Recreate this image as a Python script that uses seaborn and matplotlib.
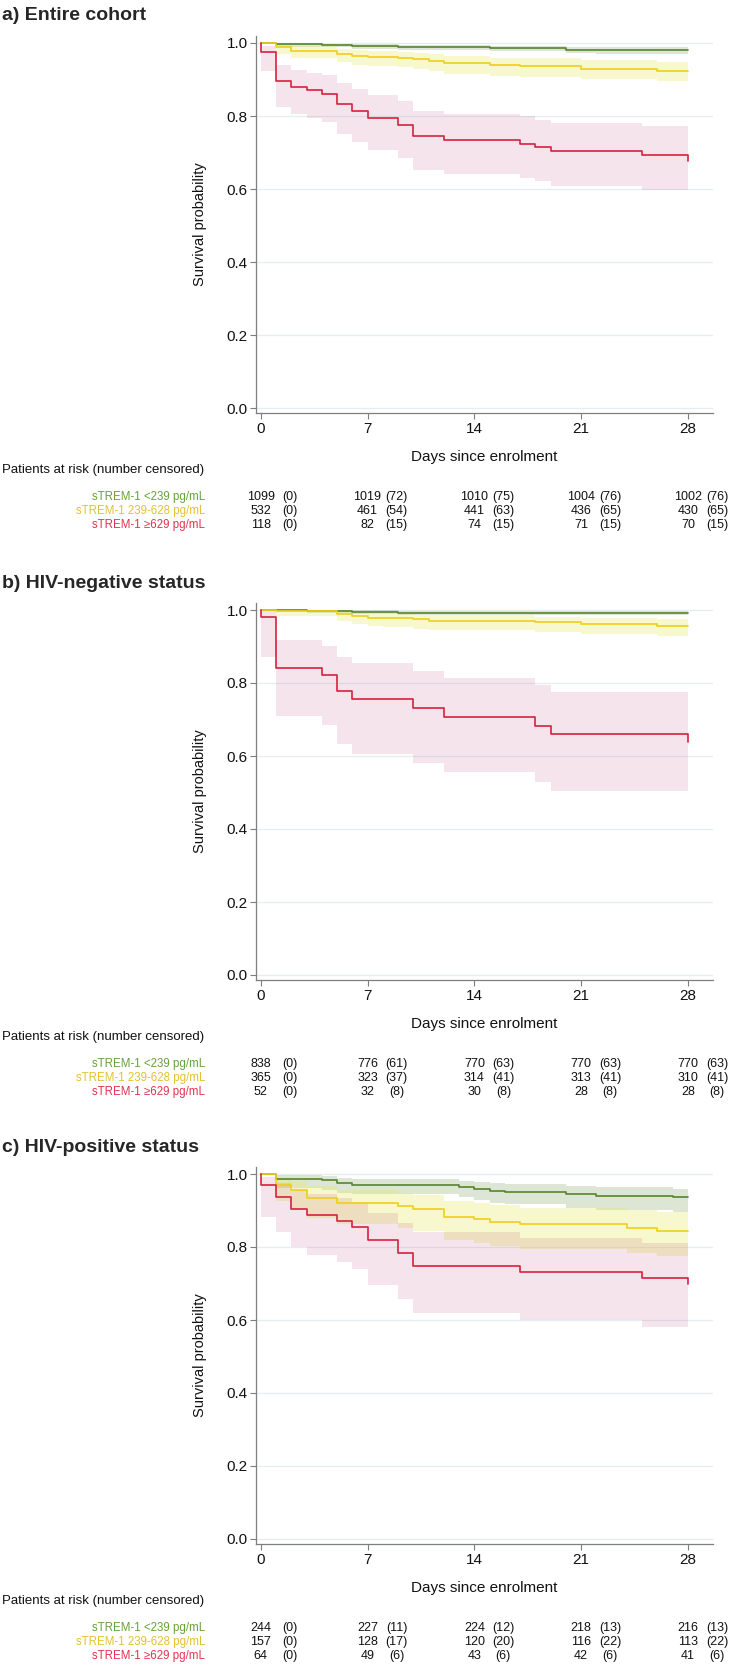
import matplotlib
matplotlib.use('Agg')
import matplotlib.pyplot as plt
import seaborn as sns
from matplotlib.transforms import blended_transform_factory

sns.set_theme(style='white')
plt.rcParams['font.family'] = ['Liberation Sans', 'DejaVu Sans']

W, H = 730, 1666

# ---------------- data ----------------
day_ticks = [0, 7, 14, 21, 28]
surv_ticks = [0.0, 0.2, 0.4, 0.6, 0.8, 1.0]
groups = ['sTREM-1 <239 pg/mL', 'sTREM-1 239-628 pg/mL', 'sTREM-1 \u2265629 pg/mL']
titles = ['a) Entire cohort', 'b) HIV-negative status', 'c) HIV-positive status']

# a) entire cohort
a_low_t = [0, 1, 4, 6, 9, 15, 20, 22, 28]
a_low_s = [1.0, 0.996, 0.994, 0.991, 0.988, 0.985, 0.982, 0.980, 0.980]
a_low_hi = [1.0, 0.999, 0.998, 0.996, 0.994, 0.992, 0.990, 0.988, 0.988]
a_low_lo = [1.0, 0.990, 0.988, 0.984, 0.980, 0.977, 0.973, 0.970, 0.970]

a_mid_t = [0, 1, 2, 5, 6, 7, 9, 10, 11, 12, 15, 17, 21, 26, 28]
a_mid_s = [1.0, 0.988, 0.979, 0.970, 0.965, 0.962, 0.959, 0.955, 0.950, 0.944, 0.939, 0.936, 0.930, 0.924, 0.924]
a_mid_hi = [1.0, 0.996, 0.991, 0.984, 0.980, 0.978, 0.976, 0.973, 0.969, 0.964, 0.960, 0.958, 0.953, 0.948, 0.948]
a_mid_lo = [1.0, 0.970, 0.959, 0.948, 0.941, 0.937, 0.934, 0.929, 0.923, 0.916, 0.910, 0.907, 0.901, 0.895, 0.895]

a_high_t = [0, 0, 1, 2, 3, 4, 5, 6, 7, 9, 10, 12, 17, 18, 19, 25, 28]
a_high_s = [1.0, 0.974, 0.896, 0.880, 0.871, 0.861, 0.832, 0.814, 0.794, 0.774, 0.744, 0.735, 0.724, 0.715, 0.704, 0.694, 0.676]
a_high_hi = [1.0, 0.992, 0.940, 0.927, 0.919, 0.913, 0.890, 0.873, 0.857, 0.841, 0.814, 0.806, 0.800, 0.789, 0.782, 0.772, 0.772]
a_high_lo = [1.0, 0.924, 0.825, 0.805, 0.795, 0.784, 0.751, 0.728, 0.706, 0.685, 0.651, 0.641, 0.630, 0.621, 0.609, 0.598, 0.598]

a_risk = [[1099, 1019, 1010, 1004, 1002], [532, 461, 441, 436, 430], [118, 82, 74, 71, 70]]
a_cens = [[0, 72, 75, 76, 76], [0, 54, 63, 65, 65], [0, 15, 15, 15, 15]]

# b) HIV-negative
b_low_t = [0, 3, 6, 9, 28]
b_low_s = [1.0, 0.997, 0.995, 0.993, 0.993]
b_low_hi = [1.0, 1.0, 0.999, 0.998, 0.998]
b_low_lo = [1.0, 0.992, 0.989, 0.986, 0.986]

b_mid_t = [0, 1, 5, 6, 7, 8, 10, 11, 18, 21, 26, 28]
b_mid_s = [1.0, 0.997, 0.989, 0.983, 0.979, 0.977, 0.974, 0.971, 0.967, 0.961, 0.957, 0.957]
b_mid_hi = [1.0, 1.0, 0.996, 0.993, 0.990, 0.989, 0.987, 0.985, 0.982, 0.978, 0.975, 0.975]
b_mid_lo = [1.0, 0.983, 0.971, 0.962, 0.956, 0.953, 0.949, 0.945, 0.940, 0.933, 0.929, 0.929]

b_high_t = [0, 0, 1, 4, 5, 6, 10, 12, 18, 19, 28]
b_high_s = [1.0, 0.982, 0.842, 0.822, 0.779, 0.755, 0.732, 0.707, 0.683, 0.659, 0.638]
b_high_hi = [1.0, 0.998, 0.919, 0.902, 0.870, 0.854, 0.834, 0.815, 0.795, 0.776, 0.776]
b_high_lo = [1.0, 0.871, 0.710, 0.684, 0.632, 0.605, 0.580, 0.555, 0.530, 0.505, 0.505]

b_risk = [[838, 776, 770, 770, 770], [365, 323, 314, 313, 310], [52, 32, 30, 28, 28]]
b_cens = [[0, 61, 63, 63, 63], [0, 37, 41, 41, 41], [0, 8, 8, 8, 8]]

# c) HIV-positive
c_low_t = [0, 1, 4, 5, 6, 13, 14, 15, 16, 20, 22, 27, 28]
c_low_s = [1.0, 0.987, 0.983, 0.975, 0.971, 0.964, 0.959, 0.954, 0.952, 0.945, 0.940, 0.936, 0.936]
c_low_hi = [1.0, 0.996, 0.994, 0.990, 0.987, 0.982, 0.979, 0.975, 0.973, 0.968, 0.964, 0.960, 0.960]
c_low_lo = [1.0, 0.963, 0.957, 0.948, 0.945, 0.936, 0.928, 0.921, 0.918, 0.908, 0.902, 0.897, 0.897]

c_mid_t = [0, 1, 2, 3, 5, 9, 10, 12, 14, 15, 17, 24, 26, 28]
c_mid_s = [1.0, 0.969, 0.955, 0.934, 0.920, 0.912, 0.905, 0.883, 0.876, 0.869, 0.862, 0.853, 0.845, 0.845]
c_mid_hi = [1.0, 0.991, 0.982, 0.966, 0.955, 0.949, 0.943, 0.925, 0.920, 0.914, 0.908, 0.901, 0.895, 0.895]
c_mid_lo = [1.0, 0.925, 0.905, 0.879, 0.862, 0.853, 0.843, 0.818, 0.810, 0.802, 0.794, 0.784, 0.775, 0.775]

c_high_t = [0, 0, 1, 2, 3, 5, 6, 7, 9, 10, 17, 25, 28]
c_high_s = [1.0, 0.969, 0.937, 0.904, 0.888, 0.871, 0.854, 0.819, 0.784, 0.749, 0.732, 0.714, 0.699]
c_high_hi = [1.0, 0.993, 0.975, 0.955, 0.945, 0.933, 0.920, 0.893, 0.865, 0.842, 0.826, 0.810, 0.810]
c_high_lo = [1.0, 0.881, 0.842, 0.800, 0.779, 0.759, 0.739, 0.697, 0.658, 0.618, 0.600, 0.582, 0.582]

c_risk = [[244, 227, 224, 218, 216], [157, 128, 120, 116, 113], [64, 49, 43, 42, 41]]
c_cens = [[0, 11, 12, 13, 13], [0, 17, 20, 22, 22], [0, 6, 6, 6, 6]]

# ---------------- style ----------------
line_colors = ['#56852b', '#eecf1a', '#d8213f']
fill_colors = ['#7a9a5a', '#e6eb5a', '#c0507a']
fill_alpha = [0.25, 0.30, 0.15]
label_colors = ['#65a23c', '#e2c232', '#e0334f']
axis_grey = '#7f7f7f'
txt = '#111111'

panels = [
    (titles[0], [(a_low_t, a_low_s, a_low_lo, a_low_hi),
                 (a_mid_t, a_mid_s, a_mid_lo, a_mid_hi),
                 (a_high_t, a_high_s, a_high_lo, a_high_hi)], a_risk, a_cens, 408),
    (titles[1], [(b_low_t, b_low_s, b_low_lo, b_low_hi),
                 (b_mid_t, b_mid_s, b_mid_lo, b_mid_hi),
                 (b_high_t, b_high_s, b_high_lo, b_high_hi)], b_risk, b_cens, 975),
    (titles[2], [(c_low_t, c_low_s, c_low_lo, c_low_hi),
                 (c_mid_t, c_mid_s, c_mid_lo, c_mid_hi),
                 (c_high_t, c_high_s, c_high_lo, c_high_hi)], c_risk, c_cens, 1539),
]


def yf(py):
    # pixel row -> figure fraction
    return 1 - py / H


fig = plt.figure(figsize=(W / 100, H / 100), dpi=100)

ylo, yhi = -0.015, 1.02
unit_px = 365
for title, curves, risk, cens, y0 in panels:
    top_px = y0 - unit_px * yhi
    bot_px = y0 - unit_px * ylo
    ax = fig.add_axes([256 / W, yf(bot_px), 457 / W, (bot_px - top_px) / H])

    # confidence bands
    for (t, s, lo, hi), fc, fa in zip(curves, fill_colors, fill_alpha):
        ax.fill_between(t, lo, hi, step='post', color=fc, alpha=fa, linewidth=0, zorder=1)
    # KM step curves
    for (t, s, lo, hi), lc in zip(curves, line_colors):
        sns.lineplot(x=t, y=s, ax=ax, color=lc, linewidth=1.2, drawstyle='steps-post',
                     sort=False, estimator=None, zorder=3)

    ax.set_xlim(-0.31, 29.64)
    ax.set_ylim(ylo, yhi)
    ax.set_xticks(day_ticks)
    ax.set_xticklabels([str(d) for d in day_ticks])
    ax.set_yticks(surv_ticks)
    ax.set_yticklabels([f'{v:.1f}' for v in surv_ticks])
    ax.set_axisbelow(True)
    ax.grid(axis='y', color='#e2eef0', linewidth=0.9)
    ax.grid(axis='x', visible=False)
    for sp in ['top', 'right']:
        ax.spines[sp].set_visible(False)
    for sp in ['left', 'bottom']:
        ax.spines[sp].set_color(axis_grey)
        ax.spines[sp].set_linewidth(0.9)
    ax.tick_params(direction='out', length=4, width=0.8, color=axis_grey,
                   labelsize=11, pad=2, left=True, bottom=True, labelcolor=txt)
    ax.set_xlabel('')
    ax.set_ylabel('')
    ax.text(-0.1225, 0.5, 'Survival probability', transform=ax.transAxes, rotation=90,
            ha='center', va='center', fontsize=10.5, color=txt)

    trans = blended_transform_factory(ax.transData, fig.transFigure)
    trans_ax = blended_transform_factory(ax.transAxes, fig.transFigure)

    fig.text(2 / W, yf(y0 - 392), title, fontsize=14, fontweight='bold', ha='left', va='center')
    ax.text(0.5, yf(y0 + 49), 'Days since enrolment', transform=trans_ax,
            ha='center', va='center', fontsize=11, color=txt)
    fig.text(2 / W, yf(y0 + 62), 'Patients at risk (number censored)', fontsize=9.5,
             ha='left', va='center', color=txt)

    for i, (name, nrisk, ncens) in enumerate(zip(groups, risk, cens)):
        ry = yf(y0 + 89 + 14 * i)
        fig.text(205 / W, ry, name, color=label_colors[i], fontsize=8.3, ha='right', va='center')
        for d, n, c in zip(day_ticks, nrisk, ncens):
            ax.text(d, ry, str(n), transform=trans, ha='center', va='center', fontsize=9,
                    color=txt)
            ax.text(d + 1.9, ry, f'({c})', transform=trans, ha='center', va='center',
                    fontsize=9, color=txt)

fig.savefig('out.png', dpi=100)
